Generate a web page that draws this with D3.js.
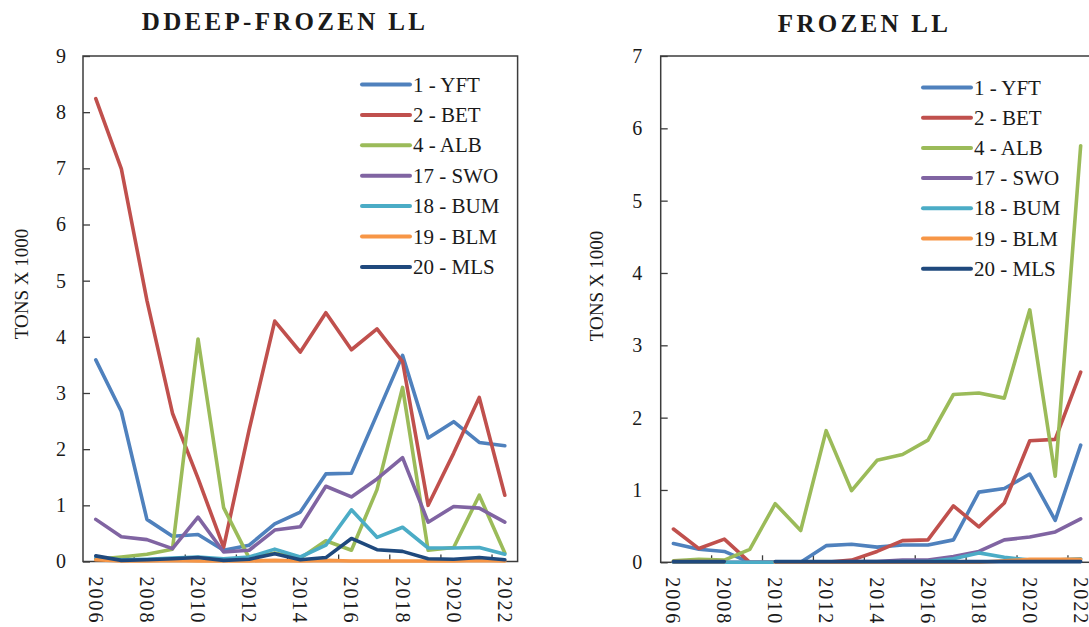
<!DOCTYPE html>
<html>
<head>
<meta charset="utf-8">
<script src="https://cdn.jsdelivr.net/npm/d3@7"></script>
<style>
  body { margin: 0; background: #fff; }
  text { font-family: "Liberation Serif", "Times New Roman", serif; fill: #1a1a1a; }
</style>
</head>
<body>
<div id="chart"></div>
<script>
// years on the x axis, labels every 2 years
const years = [2006, 2007, 2008, 2009, 2010, 2011, 2012, 2013, 2014, 2015, 2016, 2017, 2018, 2019, 2020, 2021, 2022];
const xTickYears = [2006, 2008, 2010, 2012, 2014, 2016, 2018, 2020, 2022];

const speciesLabels = ['1 - YFT', '2 - BET', '4 - ALB', '17 - SWO', '18 - BUM', '19 - BLM', '20 - MLS'];
const speciesColors = ['#4F81BD', '#C0504D', '#9BBB59', '#8064A2', '#4BACC6', '#F79646', '#1F497D'];

// DDEEP-FROZEN LL, tons x 1000
const deepYFT = [3.59, 2.67, 0.75, 0.45, 0.48, 0.2, 0.29, 0.67, 0.88, 1.56, 1.57, 2.62, 3.67, 2.2, 2.49, 2.12, 2.06];
const deepBET = [8.24, 6.99, 4.65, 2.64, 1.48, 0.25, 2.35, 4.28, 3.73, 4.43, 3.77, 4.14, 3.56, 1.0, 1.93, 2.92, 1.18];
const deepALB = [0.04, 0.08, 0.13, 0.22, 3.96, 0.96, 0.06, 0.15, 0.06, 0.37, 0.2, 1.28, 3.1, 0.2, 0.25, 1.18, 0.15];
const deepSWO = [0.75, 0.44, 0.39, 0.23, 0.79, 0.17, 0.2, 0.56, 0.62, 1.34, 1.15, 1.47, 1.85, 0.7, 0.98, 0.95, 0.7];
const deepBUM = [0.06, 0.03, 0.04, 0.06, 0.08, 0.05, 0.08, 0.22, 0.08, 0.29, 0.92, 0.43, 0.61, 0.24, 0.24, 0.25, 0.13];
const deepBLM = [0.03, 0.01, 0.01, 0.02, 0.01, 0.01, 0.01, 0.02, 0.01, 0.02, 0.01, 0.01, 0.01, 0.01, 0.01, 0.02, 0.01];
const deepMLS = [0.1, 0.02, 0.03, 0.05, 0.07, 0.02, 0.04, 0.14, 0.03, 0.07, 0.41, 0.21, 0.18, 0.05, 0.04, 0.07, 0.03];

// FROZEN LL, tons x 1000
const frozYFT = [0.26, 0.18, 0.15, 0, 0, 0, 0.23, 0.25, 0.21, 0.24, 0.24, 0.31, 0.97, 1.02, 1.22, 0.58, 1.62];
const frozBET = [0.46, 0.19, 0.32, 0, 0, 0, 0, 0.03, 0.15, 0.3, 0.31, 0.78, 0.49, 0.82, 1.68, 1.7, 2.63];
const frozALB = [0.02, 0.04, 0.03, 0.18, 0.81, 0.44, 1.82, 0.99, 1.41, 1.49, 1.69, 2.32, 2.34, 2.27, 3.49, 1.19, 5.76];
const frozSWO = [0, 0, 0, 0, 0, 0, 0, 0.01, 0.01, 0.03, 0.03, 0.08, 0.15, 0.31, 0.35, 0.42, 0.6];
const frozBUM = [0, 0, 0, 0, 0, 0, 0, 0, 0, 0.01, 0.01, 0.05, 0.13, 0.07, 0.03, 0.03, 0.05];
const frozBLM = [0.01, 0.01, 0.01, null, 0, 0, 0, 0, 0, 0, 0, 0, 0, 0.02, 0.04, 0.04, 0.04];
const frozMLS = [0.01, 0.01, 0.01, null, 0.01, 0.01, 0.01, 0.01, 0.01, 0.01, 0.01, 0.01, 0.01, 0.01, 0.01, 0.01, 0.01];

const yTicksDeep = [0, 1, 2, 3, 4, 5, 6, 7, 8, 9];
const yTicksFroz = [0, 1, 2, 3, 4, 5, 6, 7];

const svg = d3.select('#chart')
  .append('svg')
  .attr('width', 1089)
  .attr('height', 627);

function drawPanel(cfg) {
  const x = d3.scaleBand().domain(years).range([cfg.left, cfg.right]).padding(0);
  const y = d3.scaleLinear().domain([0, cfg.yMax]).range([cfg.bottom, cfg.top]);
  const g = svg.append('g');

  // title
  g.append('text')
    .attr('x', cfg.titleX + 1.6)
    .attr('y', cfg.titleY)
    .attr('text-anchor', 'middle')
    .style('font-size', '25px')
    .style('font-weight', 'bold')
    .style('letter-spacing', '3.3px')
    .text(cfg.title);

  // y axis title
  g.append('text')
    .attr('transform', `translate(${cfg.yLabelX},${cfg.yLabelY}) rotate(-90)`)
    .attr('text-anchor', 'middle')
    .attr('dominant-baseline', 'central')
    .style('font-size', '19px')
    .text('TONS X 1000');

  // plot frame
  g.append('rect')
    .attr('x', cfg.left)
    .attr('y', cfg.top)
    .attr('width', cfg.right - cfg.left)
    .attr('height', cfg.bottom - cfg.top)
    .attr('fill', 'none')
    .attr('stroke', '#3c3c3c')
    .attr('stroke-width', 1.5);

  // y axis, ticks point inside
  const yAxis = g.append('g')
    .attr('transform', `translate(${cfg.left},0)`)
    .call(d3.axisLeft(y).tickValues(cfg.yTicks).tickSizeInner(-7).tickSizeOuter(0).tickPadding(cfg.yPad).tickFormat(d3.format('d')));
  yAxis.select('.domain').remove();
  yAxis.selectAll('line').attr('stroke', '#3c3c3c').attr('stroke-width', 1.3);
  yAxis.selectAll('text').style('font-size', '20px').style('font-family', '"Liberation Serif", serif').attr('fill', '#1a1a1a');

  // x axis labels, rotated
  const xAxis = g.append('g')
    .attr('transform', `translate(0,${cfg.bottom})`)
    .call(d3.axisBottom(x).tickValues(xTickYears).tickSize(0).tickPadding(0));
  xAxis.select('.domain').remove();
  xAxis.selectAll('text')
    .attr('transform', 'rotate(90)')
    .attr('x', 15)
    .attr('y', 0)
    .attr('dy', '0.35em')
    .attr('text-anchor', 'start')
    .style('font-size', '20px')
    .style('letter-spacing', '2px')
    .style('font-family', '"Liberation Serif", serif')
    .attr('fill', '#1a1a1a');

  // x tick marks on category boundaries every 2 years
  const boundaryYears = years.filter((d, i) => i > 0 && i % 2 === 0);
  g.append('g').selectAll('line')
    .data(boundaryYears)
    .enter()
    .append('line')
    .attr('x1', d => x(d))
    .attr('x2', d => x(d))
    .attr('y1', cfg.bottom)
    .attr('y2', cfg.bottom - 7)
    .attr('stroke', '#3c3c3c')
    .attr('stroke-width', 1.3);

  const line = d3.line()
    .defined(d => d != null)
    .x((d, i) => x(years[i]) + x.bandwidth() / 2)
    .y(d => y(d));

  g.append('g').selectAll('path')
    .data(cfg.series)
    .enter()
    .append('path')
    .attr('d', d => line(d))
    .attr('fill', 'none')
    .attr('stroke', (d, i) => speciesColors[i])
    .attr('stroke-width', 3.6)
    .attr('stroke-linejoin', 'round')
    .attr('stroke-linecap', 'round');

  // legend
  const leg = g.append('g').selectAll('g')
    .data(speciesLabels)
    .enter()
    .append('g')
    .attr('transform', (d, i) => `translate(0,${cfg.legY + i * cfg.legStep})`);
  leg.append('line')
    .attr('x1', cfg.legX0)
    .attr('x2', cfg.legX1)
    .attr('stroke', (d, i) => speciesColors[i])
    .attr('stroke-width', 4)
    .attr('stroke-linecap', 'round');
  leg.append('text')
    .attr('x', cfg.legX1 + 3)
    .attr('dominant-baseline', 'central')
    .style('font-size', '21px')
    .text(d => d);
}

drawPanel({
  title: 'DDEEP-FROZEN LL', titleX: 283.4, titleY: 29.5,
  left: 83, right: 517.6, top: 56, bottom: 561.5, yMax: 9, yTicks: yTicksDeep, yPad: 17,
  yLabelX: 21, yLabelY: 284,
  legX0: 362, legX1: 410, legY: 84.5, legStep: 30.4,
  series: [deepYFT, deepBET, deepALB, deepSWO, deepBUM, deepBLM, deepMLS]
});

drawPanel({
  title: 'FROZEN LL', titleX: 863, titleY: 32.3,
  left: 660.7, right: 1093.4, top: 56, bottom: 562.3, yMax: 7, yTicks: yTicksFroz, yPad: 18.5,
  yLabelX: 596, yLabelY: 286,
  legX0: 923, legX1: 971, legY: 87.5, legStep: 30.2,
  series: [frozYFT, frozBET, frozALB, frozSWO, frozBUM, frozBLM, frozMLS]
});
</script>
</body>
</html>
